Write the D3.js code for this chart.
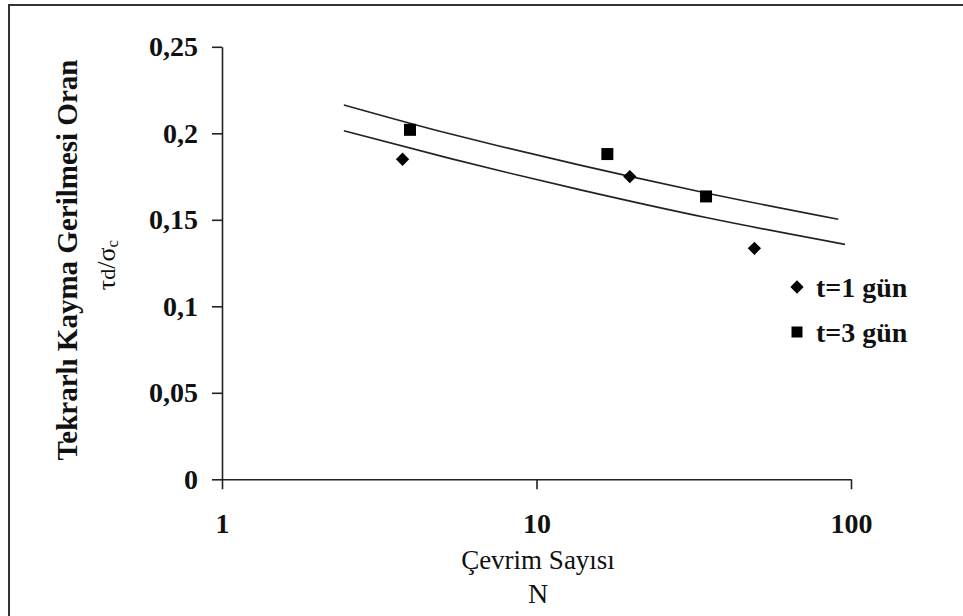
<!DOCTYPE html>
<html>
<head>
<meta charset="utf-8">
<script src="https://cdn.jsdelivr.net/npm/d3@7"></script>
<style>
    body { margin: 0; background: #fff; }
    svg { display: block; }
    text { font-family: "Liberation Serif", "Times New Roman", serif; fill: #111; }
    .axis path, .axis line { stroke: #222; stroke-width: 1.6; }
    .axis text { font-size: 28px; font-weight: bold; }
</style>
</head>
<body>
<svg id="chart" width="963" height="616"></svg>
<script>
// ===================================
// Data
// ===================================

// t=1 gün measurements (diamonds)
const N_T1 = [3.75, 19.8, 49.3];
const V_T1 = [0.185, 0.175, 0.1335];

// t=3 gün measurements (squares)
const N_T3 = [3.96, 16.8, 34.6];
const V_T3 = [0.202, 0.188, 0.1635];

// trend lines, points
const TREND_T1_N = [2.44, 5.3, 7.65, 13.8, 34.6, 95.7];
const TREND_T1_V = [0.2015, 0.1855, 0.1783, 0.1673, 0.1513, 0.1358];
const TREND_T3_N = [2.44, 5.3, 7.65, 13.75, 19.8, 34.6, 91.1];
const TREND_T3_V = [0.2164, 0.1997, 0.1925, 0.1816, 0.1751, 0.1655, 0.1503];

// axes
const X_TICKS = [1, 10, 100];
const Y_TICKS = [0, 0.05, 0.1, 0.15, 0.2, 0.25];
const LEGEND_LABELS = ['t=1 gün', 't=3 gün'];

// ===================================
// Setup
// ===================================

const svg = d3.select('#chart');
const SERIF = '"Liberation Serif", "Times New Roman", serif';

const x = d3.scaleLog()
    .domain([1, 100])
    .range([222, 851]);

const y = d3.scaleLinear()
    .domain([0, 0.25])
    .range([479.3, 46.8]);

const zip = (xs, ys) => xs.map((v, i) => [v, ys[i]]);

// outer frame (only top and left edges are in view)
svg.append('rect')
    .attr('x', 9)
    .attr('y', 5)
    .attr('width', 980)
    .attr('height', 640)
    .attr('fill', 'none')
    .attr('stroke', '#333')
    .attr('stroke-width', 2);

// ===================================
// Axes
// ===================================

svg.append('g')
    .attr('class', 'axis')
    .attr('transform', `translate(0,${y(0)})`)
    .call(d3.axisBottom(x)
        .tickValues(X_TICKS)
        .tickFormat(d3.format('d'))
        .tickSize(10)
        .tickSizeOuter(0)
        .tickPadding(24))
    .attr('font-family', SERIF);

svg.append('g')
    .attr('class', 'axis')
    .attr('transform', `translate(${x(1)},0)`)
    .call(d3.axisLeft(y)
        .tickValues(Y_TICKS)
        .tickFormat(d => String(d).replace('.', ','))
        .tickSize(10)
        .tickSizeOuter(0)
        .tickPadding(14))
    .attr('font-family', SERIF);

// axis titles
svg.append('text')
    .attr('x', 538)
    .attr('y', 569)
    .attr('text-anchor', 'middle')
    .style('font-size', '27px')
    .text('Çevrim Sayısı');

svg.append('text')
    .attr('x', 538)
    .attr('y', 603)
    .attr('text-anchor', 'middle')
    .style('font-size', '28px')
    .text('N');

svg.append('text')
    .attr('transform', 'translate(77,260) rotate(-90)')
    .attr('text-anchor', 'middle')
    .style('font-size', '29px')
    .style('font-weight', 'bold')
    .text('Tekrarlı Kayma  Gerilmesi Oran');

const sub = svg.append('text')
    .attr('transform', 'translate(115,265) rotate(-90)')
    .attr('text-anchor', 'middle')
    .style('font-size', '26px');
sub.append('tspan').text('τ');
sub.append('tspan').style('font-size', '22px').text('d');
sub.append('tspan').text('/σ');
sub.append('tspan').style('font-size', '17px').attr('dy', 3).text('c');

// ===================================
// Trend lines
// ===================================

const line = d3.line()
    .x(d => x(d[0]))
    .y(d => y(d[1]))
    .curve(d3.curveMonotoneX);

[zip(TREND_T1_N, TREND_T1_V), zip(TREND_T3_N, TREND_T3_V)].forEach(pts => {
    svg.append('path')
        .attr('d', line(pts))
        .attr('fill', 'none')
        .attr('stroke', '#222')
        .attr('stroke-width', 1.6);
});

// ===================================
// Markers
// ===================================

const diamond = d3.symbol().type(d3.symbolSquare).size(88);
const square = d3.symbol().type(d3.symbolSquare).size(144);

svg.selectAll('.pt-t1')
    .data(zip(N_T1, V_T1))
    .join('path')
    .attr('class', 'pt-t1')
    .attr('d', diamond)
    .attr('transform', d => `translate(${x(d[0])},${y(d[1])}) rotate(45)`)
    .attr('fill', '#000');

svg.selectAll('.pt-t3')
    .data(zip(N_T3, V_T3))
    .join('path')
    .attr('class', 'pt-t3')
    .attr('d', square)
    .attr('transform', d => `translate(${x(d[0])},${y(d[1])})`)
    .attr('fill', '#000');

// ===================================
// Legend
// ===================================

const legend = svg.append('g').attr('transform', 'translate(797,287)');

LEGEND_LABELS.forEach((label, i) => {
    const row = legend.append('g').attr('transform', `translate(0,${i * 45})`);
    row.append('path')
        .attr('d', i === 0 ? diamond : d3.symbol().type(d3.symbolSquare).size(121))
        .attr('transform', i === 0 ? 'rotate(45)' : null)
        .attr('fill', '#000');
    row.append('text')
        .attr('x', 19)
        .attr('dy', '0.35em')
        .style('font-size', '28px')
        .style('font-weight', 'bold')
        .text(label);
});
</script>
</body>
</html>
